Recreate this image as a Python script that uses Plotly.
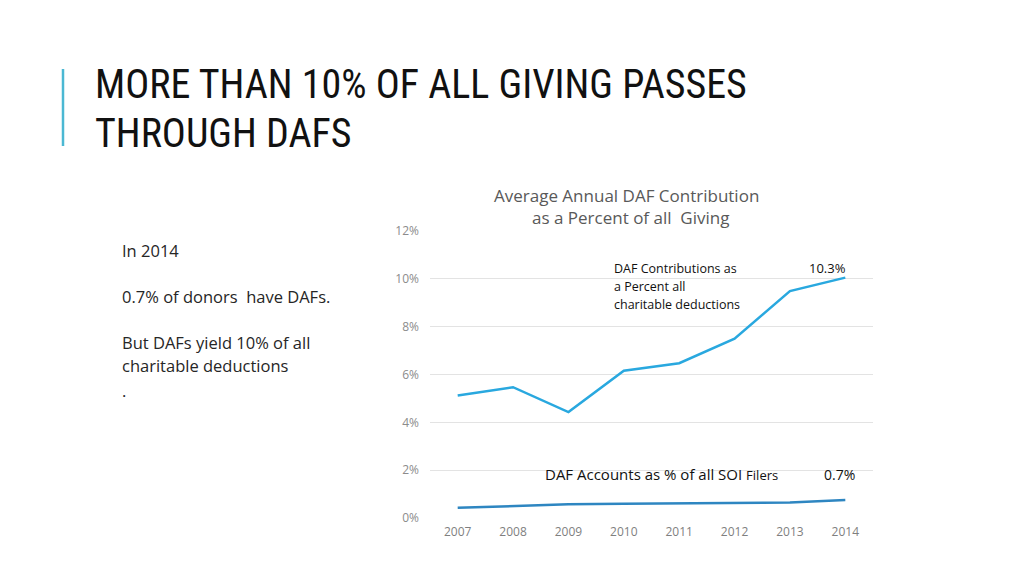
import plotly.graph_objects as go

years = ["2007", "2008", "2009", "2010", "2011", "2012", "2013", "2014"]
daf_contrib_pct = [5.12, 5.47, 4.43, 6.16, 6.47, 7.50, 9.49, 10.05]
daf_accounts_pct = [0.43, 0.51, 0.57, 0.60, 0.61, 0.64, 0.65, 0.75]
y_ticks = [0, 2, 4, 6, 8, 10, 12]
y_tick_labels = ["0%", "2%", "4%", "6%", "8%", "10%", "12%"]

W, H = 1008, 560
OX, OY = 8, 8  # page offset of the plot div (body margin)
BODY = "Open Sans, Lato, sans-serif"
TITLE_FONT = "Roboto Condensed, DejaVu Sans Condensed, sans-serif"

def px(x):
    return (x - OX) / W

def py(y):
    return 1 - (y - OY) / H

fig = go.Figure()
fig.add_trace(go.Scatter(x=years, y=daf_contrib_pct, mode="lines",
                         line=dict(color="#29A8DF", width=2.5), showlegend=False,
                         name="DAF Contributions"))
fig.add_trace(go.Scatter(x=years, y=daf_accounts_pct, mode="lines",
                         line=dict(color="#2E86C1", width=2.5), showlegend=False,
                         name="DAF Accounts"))

fig.update_layout(
    width=W, height=H,
    margin=dict(l=0, r=0, t=0, b=0),
    paper_bgcolor="white", plot_bgcolor="white",
    xaxis=dict(domain=[px(430), px(873)], type="category", range=[-0.5, 7.5],
               showgrid=False, showline=False, zeroline=False, ticks="",
               tickfont=dict(family=BODY, size=12, color="#7f7f7f"),
               ticklabelstandoff=5, automargin=False),
    yaxis=dict(domain=[py(518), py(231)], range=[0, 12], tickvals=y_ticks,
               ticktext=y_tick_labels, showgrid=True, gridcolor="#e3e3e3",
               gridwidth=1, zeroline=False, showline=False, ticks="",
               tickfont=dict(family=BODY, size=12, color="#8c8c8c"),
               ticklabelstandoff=10, automargin=False),
)

anns = []
def text(x, y, s, size, color, family=BODY, xanchor="left"):
    anns.append(dict(x=px(x), y=py(y), xref="paper", yref="paper", text=s,
                     showarrow=False, xanchor=xanchor, yanchor="middle",
                     font=dict(family=family, size=size, color=color)))

# Slide title
text(93, 85, "MORE THAN 10% OF ALL GIVING PASSES", 40, "#111111", TITLE_FONT)
text(93, 134, "THROUGH DAFS", 40, "#111111", TITLE_FONT)

# Left body text
text(120, 250, "In 2014", 16.5, "#262626")
text(120, 296, "0.7% of donors  have DAFs.", 16.5, "#262626")
text(120, 342, "But DAFs yield 10% of all", 16.5, "#262626")
text(120, 365, "charitable deductions", 16.5, "#262626")
text(120, 390, ".", 16.5, "#262626")

# Chart title
text(626, 196, "Average Annual DAF Contribution", 17, "#595959", xanchor="center")
text(630, 217, "as a Percent of all  Giving", 17, "#595959", xanchor="center")

# Series annotations
text(612, 268, "DAF Contributions as", 12.5, "#111111")
text(612, 286, "a Percent all", 12.5, "#111111")
text(612, 304, "charitable deductions", 12.5, "#111111")
text(848, 268, "10.3%", 13, "#111111", xanchor="right")
text(543, 474, "DAF Accounts as % of all SOI <span style='font-size:13px'>Filers</span>", 15, "#111111")
text(857, 474, "0.7%", 14, "#111111", xanchor="right")

fig.update_layout(annotations=anns)

# Accent bar next to title
fig.add_shape(type="line", xref="paper", yref="paper",
              x0=px(63), x1=px(63), y0=py(69), y1=py(146),
              line=dict(color="#4BB8D3", width=2.5))

fig.write_html("out.html")
